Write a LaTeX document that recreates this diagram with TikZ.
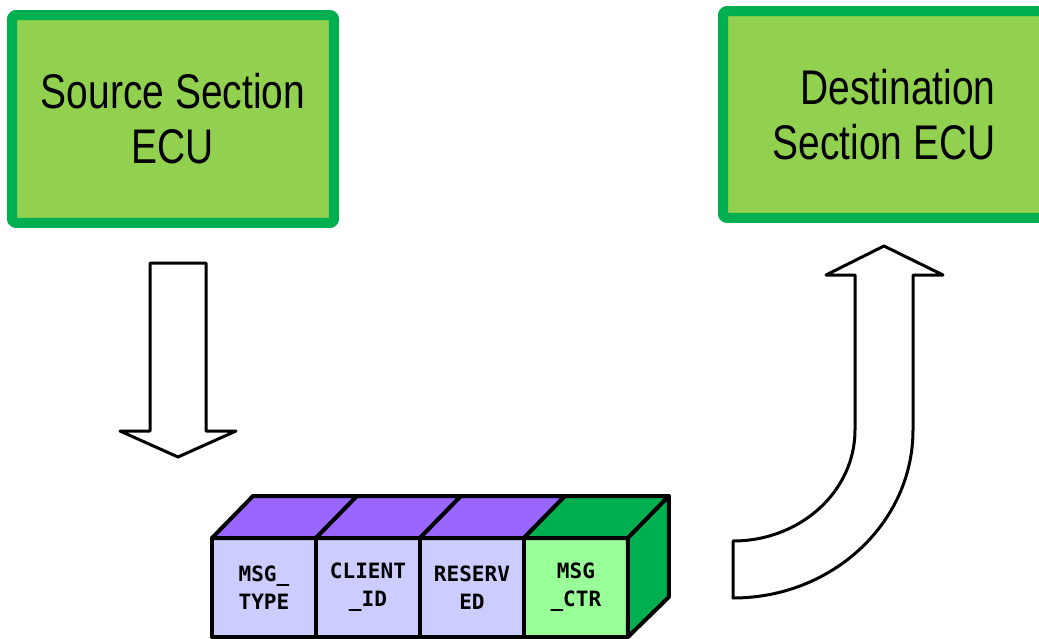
\documentclass[tikz,border=0pt]{standalone}
\usepackage{fontspec}
\usepackage{tikz}
\usetikzlibrary{calc}
\usetikzlibrary{positioning}
\newfontfamily\ecufont{Liberation Sans}[FakeStretch=0.8]
\newfontfamily\cellfont{DejaVu Sans Mono}
\definecolor{ecuborder}{HTML}{00B050}
\definecolor{ecufill}{HTML}{92D050}
\definecolor{violet}{HTML}{9966FF}
\definecolor{lavender}{HTML}{CCCCFF}
\definecolor{lightgreen}{HTML}{99FF99}

\begin{document}
\begin{tikzpicture}[x=0.02cm,y=-0.02cm,node distance=0pt,line join=round,
  ecu/.style={draw=ecuborder,fill=ecufill,line width=0.2cm,rounded corners=2pt,
    inner sep=0pt,font=\ecufont\fontsize{27.7}{31.2}\selectfont},
  cell/.style={draw,line width=0.08cm,fill=#1,minimum width=2.08cm,minimum height=1.98cm,
    inner sep=0pt,outer sep=0pt,align=center,font=\cellfont\bfseries\fontsize{12}{16}\selectfont},
  blockarrow/.style={draw,line width=0.06cm,fill=white}]

\useasboundingbox (0,0) rectangle (1039,639);

% ECUs
\node[ecu,minimum width=6.44cm,minimum height=4.16cm,align=center] (src) at (173,119) {Source Section\\ECU};
\node[ecu,minimum width=6.44cm,minimum height=4.14cm,align=right] (dst) at (884,114.5) {Destination\\Section ECU};

% message frame
\node[cell=lavender,anchor=north west] (type) at (212,538) {MSG\_\\TYPE};
\node[cell=lavender,right=of type] (client) {CLIENT\\\_ID};
\node[cell=lavender,right=of client] (reserved) {RESERV\\ED};
\node[cell=lightgreen,right=of reserved] (ctr) {MSG\\\_CTR};

\foreach \c in {type,client,reserved}
  \draw[line width=0.08cm,fill=violet] (\c.north west) -- ++(41,-42) -- ($(\c.north east)+(41,-42)$) -- (\c.north east) -- cycle;
\draw[line width=0.08cm,fill=ecuborder] (ctr.north west) -- ++(41,-42) -- ++(104,0) -- (ctr.north east) -- cycle;
\draw[line width=0.08cm,fill=ecuborder] (ctr.north east) -- ++(41,-42) -- ++(0,101) -- (ctr.south east) -- cycle;

% arrows
\draw[blockarrow] (150,263) -- (206,263) -- (206,431) -- (236,431) -- (178,457) -- (120,431) -- (150,431) -- cycle;
\draw[blockarrow] (733,541) .. controls (800.4,541) and (855,491.3) .. (855,430) -- (855,275) -- (826,275)
  -- (884,246) -- (943,275) -- (913,275) -- (913,430) .. controls (913,522.8) and (832.4,598) .. (733,598) -- cycle;
\end{tikzpicture}
\end{document}
